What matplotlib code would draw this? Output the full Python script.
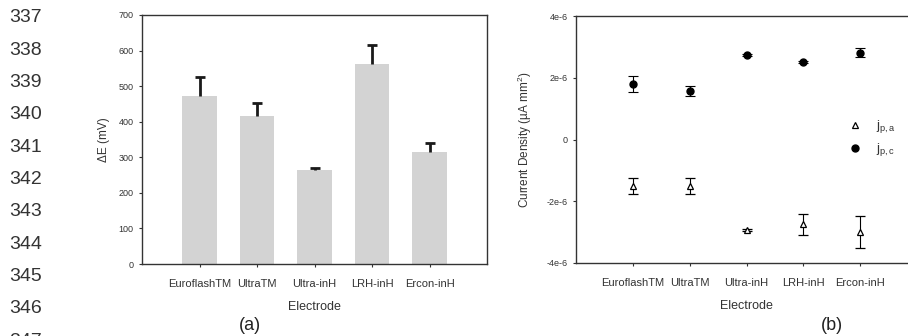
import numpy as np
import matplotlib.pyplot as plt

plt.rcParams['font.family'] = ['Liberation Sans', 'DejaVu Sans']
plt.rcParams['mathtext.default'] = 'regular'

electrodes = ['EuroflashTM', 'UltraTM', 'Ultra-inH', 'LRH-inH', 'Ercon-inH']

# panel (a): peak separation
delta_e = [472, 416, 264, 562, 315]
delta_e_err = [54, 37, 6, 53, 24]

# panel (b): peak current densities
j_pa = [-1.51e-6, -1.50e-6, -2.93e-6, -2.75e-6, -3.00e-6]
j_pa_err = [0.25e-6, 0.25e-6, 0.04e-6, 0.35e-6, 0.52e-6]
j_pc = [1.80e-6, 1.57e-6, 2.73e-6, 2.50e-6, 2.81e-6]
j_pc_err = [0.25e-6, 0.17e-6, 0.03e-6, 0.03e-6, 0.15e-6]

line_numbers = list(range(337, 348))

W, H = 908, 336
fig = plt.figure(figsize=(W / 100, H / 100), dpi=100)

axis_col = '#333333'
x = np.arange(len(electrodes))


def style(ax):
    for s in ax.spines.values():
        s.set_color(axis_col)
        s.set_linewidth(1.0)
    ax.tick_params(direction='out', length=2.5, width=0.8, color=axis_col,
                   labelcolor='#333333')
    ax.tick_params(axis='y', labelsize=6.5, pad=3.5)
    ax.tick_params(axis='x', labelsize=8, pad=8)


# ── (a) bar chart ──────────────────────────────────────────────
ax1 = fig.add_axes([142 / W, 72 / H, 345 / W, 249 / H])
ax1.bar(x, delta_e, width=0.6, color='#d3d3d3', zorder=1)
_, caps, _ = ax1.errorbar(x, delta_e, yerr=[np.zeros(len(x)), delta_e_err],
                          fmt='none', ecolor='#1a1a1a', elinewidth=2.0,
                          capsize=3.5, capthick=2.0, zorder=2)
caps[0].set_visible(False)  # only the upper cap, like the original
ax1.set_xlim(-1, len(x))
ax1.set_ylim(0, 700)
ax1.set_yticks(range(0, 701, 100))
ax1.set_xticks(x)
ax1.set_xticklabels(electrodes)
ax1.set_xlabel('Electrode', fontsize=9, color='#333333', labelpad=9)
ax1.set_ylabel('ΔE (mV)', fontsize=8.5, color='#333333', labelpad=6)
style(ax1)

# ── (b) scatter with error bars ─────────────────────────────────
ax2 = fig.add_axes([576 / W, 73 / H, 341 / W, 247 / H])
ax2.errorbar(x, j_pa, yerr=j_pa_err, fmt='^', ms=4.5, mfc='white', mec='black',
             mew=0.9, ecolor='black', elinewidth=0.8, capsize=3.5, capthick=0.8,
             label=r'j$_{p,a}$')
ax2.errorbar(x, j_pc, yerr=j_pc_err, fmt='o', ms=5, mfc='black', mec='black',
             ecolor='black', elinewidth=0.8, capsize=3.5, capthick=0.8,
             label=r'j$_{p,c}$')
ax2.set_xlim(-1, len(x))
ax2.set_ylim(-4e-6, 4e-6)
ax2.set_yticks([-4e-6, -2e-6, 0, 2e-6, 4e-6])
ax2.set_yticklabels(['-4e-6', '-2e-6', '0', '2e-6', '4e-6'])
ax2.set_xticks(x)
ax2.set_xticklabels(electrodes)
ax2.set_xlabel('Electrode', fontsize=9, color='#333333', labelpad=9)
ax2.set_ylabel(r'Current Density (µA mm$^2$)', fontsize=8.5, color='#333333',
               labelpad=9)
style(ax2)
handles, labels = ax2.get_legend_handles_labels()
handles = [h[0] for h in handles]
ax2.legend(handles, labels, loc='center left', bbox_to_anchor=(0.765, 0.505),
           frameon=False, fontsize=9.5, handlelength=1.0, handletextpad=1.1,
           labelspacing=0.45, labelcolor='#333333')

# panel labels
fig.text(250 / W, 1 - 326 / H, '(a)', fontsize=13, ha='center', va='center',
         color='#222222')
fig.text(832 / W, 1 - 326 / H, '(b)', fontsize=13, ha='center', va='center',
         color='#222222')

# manuscript line numbers
for i, n in enumerate(line_numbers):
    fig.text(9 / W, 1 - (18 + 32.3 * i) / H, str(n), fontsize=14,
             ha='left', va='center', color='#333333')

fig.savefig('out.png', dpi=100)
